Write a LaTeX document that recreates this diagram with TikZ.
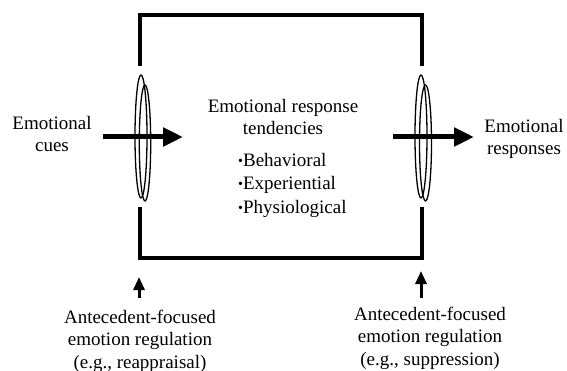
\documentclass[tikz,border=0pt]{standalone}
\usepackage{fontspec}
\setmainfont{Liberation Serif}
\usetikzlibrary{arrows.meta}
\newcommand{\smallbul}{{\fontsize{14}{14}\selectfont\raisebox{1pt}{•}}}
\begin{document}
\begin{tikzpicture}[x=1pt,y=-1pt,
  lbl/.style={font=\fontsize{19}{21.5}\selectfont, align=center, inner sep=0pt},
  frame/.style={line width=4pt},
  ring/.style={line width=1.3pt},
  bigarrow/.style={line width=5pt, -{Triangle[length=20pt,width=18pt]}},
  uparrow/.style={line width=3pt, -{Triangle[length=13pt,width=11pt]}}
]
\useasboundingbox (0,0) rectangle (567,371);
% frame
\coordinate (LT) at (140,15);
\coordinate (RT) at (422,15);
\coordinate (LG1) at (140,66);
\coordinate (RG1) at (422,66);
\coordinate (LG2) at (140,207);
\coordinate (RG2) at (422,207);
\coordinate (LB) at (140,257.5);
\coordinate (RB) at (422,257.5);
\draw[frame] (LG1) -- (LT) -- (RT) -- (RG1);
\draw[frame] (LG2) -- (LB) -- (RB) -- (RG2);
% rings
\draw[ring] (141,136.5) ellipse [x radius=6, y radius=61.5];
\draw[ring] (145,143) ellipse [x radius=5.7, y radius=58];
\draw[ring] (421,136.5) ellipse [x radius=6, y radius=61.5];
\draw[ring] (425.5,143) ellipse [x radius=6, y radius=58];
% texts
\node[lbl] (cues) at (52,134) {Emotional\\cues};
\node[lbl] (tend) at (283,117) {Emotional response\\tendencies};
\node[lbl, align=left, anchor=west, font=\fontsize{19}{23.5}\selectfont] (list) at (238,185)
  {\smallbul Behavioral\\\smallbul Experiential\\\smallbul Physiological};
\node[lbl] (resp) at (524,139) {Emotional\\responses};
\node[lbl, font=\fontsize{19}{22.5}\selectfont] (regL) at (140,341) {Antecedent-focused\\emotion regulation\\(e.g., reappraisal)};
\node[lbl, font=\fontsize{19}{22.5}\selectfont] (regR) at (430,338) {Antecedent-focused\\emotion regulation\\(e.g., suppression)};
% arrows
\coordinate (a1s) at (103,137);
\coordinate (a1e) at (183,137);
\coordinate (a2s) at (393,137);
\coordinate (a2e) at (474,137);
\draw[bigarrow] (a1s) -- (a1e);
\draw[bigarrow] (a2s) -- (a2e);
\coordinate (u1s) at (139,298);
\coordinate (u1e) at (139,277);
\coordinate (u2s) at (421,298);
\coordinate (u2e) at (421,271);
\draw[uparrow] (u1s) -- (u1e);
\draw[uparrow] (u2s) -- (u2e);
\end{tikzpicture}
\end{document}
